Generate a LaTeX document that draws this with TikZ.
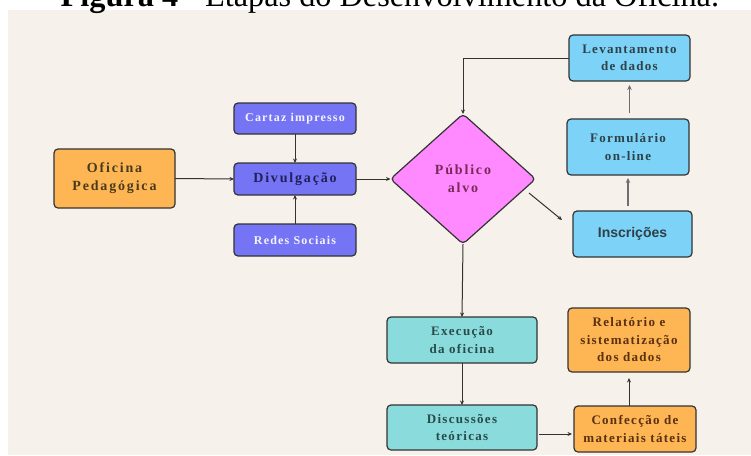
\documentclass[tikz,border=0pt]{standalone}
\usepackage{fontspec}
\setmainfont{Liberation Serif}
\newfontfamily\bxfont[LetterSpace=10]{Liberation Serif}
\newfontfamily\bxfontw[LetterSpace=13]{Liberation Serif}
\newfontfamily\sansbx{Liberation Sans}
\usetikzlibrary{shapes.geometric,arrows.meta,calc}
\definecolor{panelc}{HTML}{F6F2EB}
\definecolor{orangeF}{HTML}{FDB653}
\definecolor{purpleF}{HTML}{7474F4}
\definecolor{pinkF}{HTML}{FF8AFF}
\definecolor{blueF}{HTML}{7DD3F7}
\definecolor{tealF}{HTML}{8ADCDC}
\definecolor{edgec}{HTML}{333333}
\definecolor{grayarr}{HTML}{6E6E6E}
\definecolor{tOrange}{HTML}{4A3A1C}
\definecolor{tOrange2}{HTML}{5A3010}
\definecolor{tNavy}{HTML}{20205A}
\definecolor{tLight}{HTML}{F4F4FF}
\definecolor{tPink}{HTML}{7A2858}
\definecolor{tBlue}{HTML}{2E4048}
\definecolor{tTeal}{HTML}{2A4A4A}
\tikzset{
  box/.style={draw=edgec, line width=1.2pt, rounded corners=4pt, align=center,
    inner sep=0pt, outer sep=0pt},
  txt12/.style={font=\bxfont\bfseries\fontsize{13}{17.5}\selectfont},
  txt13/.style={font=\bxfontw\bfseries\fontsize{14}{18}\selectfont},
  txt11/.style={font=\bxfont\bfseries\fontsize{12}{14}\selectfont},
  arr/.style={-{Stealth[length=4.5pt,width=4pt]}, line width=1pt, draw=edgec},
  garr/.style={-{Stealth[length=5pt,width=4.5pt]}, line width=1.8pt, draw=grayarr},
}
\begin{document}
\begin{tikzpicture}[x=1pt,y=-1pt]
\useasboundingbox (0,0) rectangle (751,455);
\fill[panelc] (8,10) rectangle (751,455);
\node[anchor=base west, inner sep=0pt, font=\fontsize{32.3}{36}\selectfont] (title) at (60.5,6)
  {\textbf{Figura 4} - Etapas do Desenvolvimento da Oficina.};

% left part
\node[box, txt13, fill=orangeF, text=tOrange, minimum width=121pt, minimum height=59pt] (ofi) at (114.5,178.5) {Oficina\\Pedag\'ogica};
\node[box, txt11, fill=purpleF, text=tLight, minimum width=122pt, minimum height=31pt] (cartaz) at (295,118.5) {Cartaz impresso};
\node[box, txt13, fill=purpleF, text=tNavy, minimum width=122pt, minimum height=32pt] (divul) at (295,179) {Divulga\c{c}\~ao};
\node[box, txt11, fill=purpleF, text=tLight, minimum width=122pt, minimum height=32pt] (redes) at (295,240) {Redes Sociais};

% diamond
\node[diamond, draw=edgec, line width=1.2pt, rounded corners=4pt, fill=pinkF, inner sep=0pt, outer sep=0pt,
  aspect=1.115, minimum width=145pt, minimum height=130pt, align=center, txt13, text=tPink] (dia) at (463,179) {P\'ublico\\alvo};

% right column
\node[box, txt12, fill=blueF, text=tBlue, minimum width=121pt, minimum height=46pt] (lev) at (629.5,58) {Levantamento\\de dados};
\node[box, txt12, fill=blueF, text=tBlue, minimum width=122pt, minimum height=56pt] (form) at (628,147) {Formul\'ario\\on-line};
\node[box, fill=blueF, text=tBlue, minimum width=119pt, minimum height=46pt,
  font=\sansbx\bfseries\fontsize{14}{17}\selectfont] (insc) at (632.5,234) {Inscri\c{c}\~oes};

% bottom
\node[box, txt12, fill=tealF, text=tTeal, minimum width=150pt, minimum height=46pt] (exec) at (462,340) {Execu\c{c}\~ao\\da oficina};
\node[box, txt12, fill=tealF, text=tTeal, minimum width=150pt, minimum height=45pt] (disc) at (462,427.5) {Discuss\~oes\\te\'oricas};
\node[box, txt12, fill=orangeF, text=tOrange2, minimum width=122pt, minimum height=46pt] (conf) at (635,429) {Confec\c{c}\~ao de\\materiais t\'ateis};
\node[box, txt12, fill=orangeF, text=tOrange2, minimum width=122pt, minimum height=64pt] (rel) at (629,340) {Relat\'orio e\\sistematiza\c{c}\~ao\\dos dados};

% connectors
\draw[arr] (ofi.east) -- (divul.west);
\draw[arr] (cartaz.south) -- (divul.north);
\draw[arr] (redes.north) -- (divul.south);
\draw[arr] (divul.east) -- (dia.west);
\coordinate (dstart) at (529,193);
\coordinate (iend) at (562,220);
\draw[arr] (dstart) -- (iend);
\draw[garr, shorten <=5pt, shorten >=3pt] (insc.north -| form) -- (form.south);
\draw[garr, shorten <=6pt, shorten >=4pt] (form.north -| lev) -- (lev.south);
\draw[arr] (lev.west) -| (dia.north);
\draw[arr] (dia.south) -- (exec.north);
\draw[arr] (exec.south) -- (disc.north);
\draw[arr, shorten <=2pt, shorten >=2pt] ([yshift=-6.5pt]disc.east) -- ([yshift=-5pt]conf.west);
\draw[arr, shorten >=6pt] (conf.north -| rel) -- (rel.south);
\end{tikzpicture}
\end{document}
